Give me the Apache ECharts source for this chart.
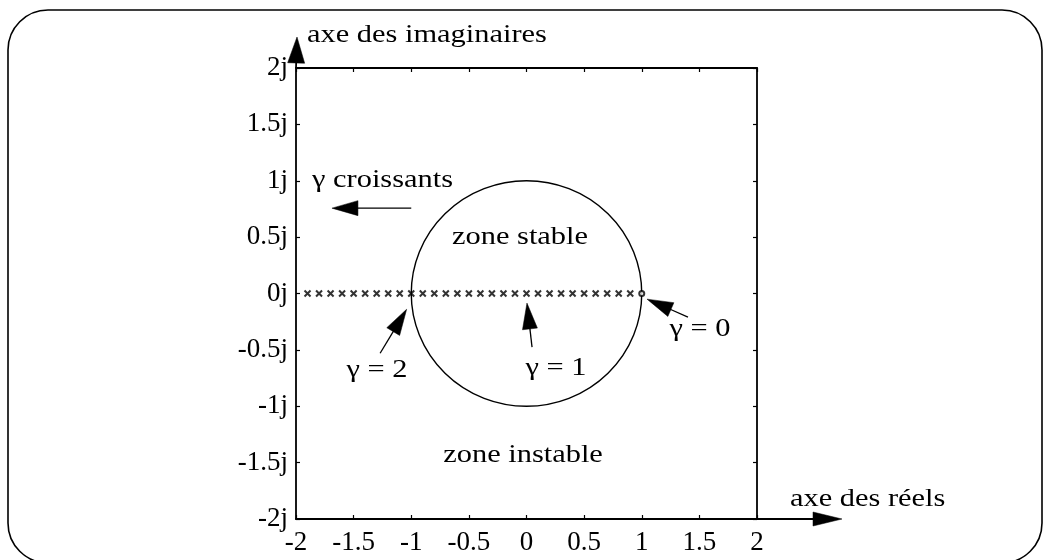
<!DOCTYPE html>
<html>
<head>
<meta charset="utf-8">
<script src="https://cdn.jsdelivr.net/npm/echarts@6/dist/echarts.min.js"></script>
<style>
  html, body { margin: 0; padding: 0; background: #fff; }
  #chart { width: 1046px; height: 560px; }
</style>
</head>
<body>
<div id="chart"></div>
<script>
// Axis ticks of the complex plane
const xTickValues = [-2, -1.5, -1, -0.5, 0, 0.5, 1, 1.5, 2];
const xTickLabels = ['-2', '-1.5', '-1', '-0.5', '0', '0.5', '1', '1.5', '2'];
const yTickValues = [-2, -1.5, -1, -0.5, 0, 0.5, 1, 1.5, 2];
const yTickLabels = ['-2j', '-1.5j', '-1j', '-0.5j', '0j', '0.5j', '1j', '1.5j', '2j'];

// Pole locations on the real axis for growing gain (x markers)
const poleReal = [0.9, 0.8, 0.7, 0.6, 0.5, 0.4, 0.3, 0.2, 0.1, 0,
  -0.1, -0.2, -0.3, -0.4, -0.5, -0.6, -0.7, -0.8, -0.9, -1,
  -1.1, -1.2, -1.3, -1.4, -1.5, -1.6, -1.7, -1.8, -1.9];
const poleImag = 0;
// Starting point (gamma = 0)
const startPoint = [1, 0];
// Stability circle: centre (re, im) and radius
const unitCircle = [0, 0, 1];

// Text notes, anchored in data coordinates
const notes = [
  { text: 'γ croissants', at: [-1.861, 1.005], align: 'left' },
  { text: 'zone stable', at: [-0.056, 0.5], align: 'center' },
  { text: 'zone instable', at: [-0.03, -1.433], align: 'center' },
  { text: 'γ = 2', at: [-1.297, -0.679], align: 'center' },
  { text: 'γ = 1', at: [0.256, -0.661], align: 'center' },
  { text: 'γ = 0', at: [1.505, -0.315], align: 'center' }
];
// Pointer arrows: tail -> head, in data coordinates
const pointers = [
  { from: [-1.0, 0.757], to: [-1.688, 0.757] },
  { from: [-1.27, -0.53], to: [-1.04, -0.14] },
  { from: [0.048, -0.475], to: [0.004, -0.085] },
  { from: [1.401, -0.209], to: [1.046, -0.05] }
];

const FONT_FAMILY = '"Liberation Serif", "Times New Roman", serif';
const INK = '#000';

function tickLabel(values, labels) {
  return function (v) {
    for (let i = 0; i < values.length; i++) {
      if (Math.abs(values[i] - v) < 1e-9) return labels[i];
    }
    return '';
  };
}

const baseAxis = {
  type: 'value', min: -2, max: 2, interval: 0.5,
  axisLine: { show: true, onZero: false, lineStyle: { color: INK, width: 1.8 } },
  axisTick: { show: true, inside: true, length: 4, lineStyle: { color: INK, width: 1.2 } },
  splitLine: { show: false },
  minorTick: { show: false }
};

const chart = echarts.init(document.getElementById('chart'), null, { renderer: 'canvas' });

chart.setOption({
  animation: false,
  backgroundColor: '#fff',
  grid: { left: 296, right: 289, top: 68, bottom: 41, containLabel: false },
  xAxis: [
    Object.assign({}, baseAxis, {
      position: 'bottom',
      axisLabel: {
        show: true, margin: 10, color: INK, fontFamily: FONT_FAMILY, fontSize: 27,
        formatter: tickLabel(xTickValues, xTickLabels)
      }
    }),
    Object.assign({}, baseAxis, { position: 'top', axisLabel: { show: false } })
  ],
  yAxis: [
    Object.assign({}, baseAxis, {
      position: 'left',
      axisLabel: {
        show: true, margin: 8, color: INK, fontFamily: FONT_FAMILY, fontSize: 27,
        formatter: tickLabel(yTickValues, yTickLabels)
      }
    }),
    Object.assign({}, baseAxis, { position: 'right', axisLabel: { show: false } })
  ],
  series: [
    {
      type: 'scatter', xAxisIndex: 0, yAxisIndex: 0, silent: true,
      data: poleReal.map(function (re) { return [re, poleImag]; }),
      symbol: 'path://M0,0L10,10M10,0L0,10',
      symbolSize: 6,
      itemStyle: { color: 'none', borderColor: INK, borderWidth: 2 }
    },
    {
      type: 'scatter', xAxisIndex: 0, yAxisIndex: 0, silent: true,
      data: [startPoint],
      symbol: 'emptyCircle', symbolSize: 5,
      itemStyle: { color: INK, borderColor: INK, borderWidth: 1.3 }
    },
    {
      type: 'custom', xAxisIndex: 0, yAxisIndex: 0, silent: true,
      data: [unitCircle],
      renderItem: function (params, api) {
        const c = api.coord([api.value(0), api.value(1)]);
        const s = api.size([api.value(2), api.value(2)]);
        return {
          type: 'circle',
          x: c[0], y: c[1],
          scaleY: s[1] / s[0],
          shape: { cx: 0, cy: 0, r: s[0] },
          style: { fill: 'none', stroke: INK, lineWidth: 1.4 }
        };
      }
    }
  ]
});

// Overlay: frame, axis arrows, axis names, notes and pointers
function px(p) { return chart.convertToPixel({ seriesIndex: 0 }, p); }

function arrowHead(tip, tail, len, half) {
  const dx = tip[0] - tail[0], dy = tip[1] - tail[1];
  const d = Math.sqrt(dx * dx + dy * dy);
  const ux = dx / d, uy = dy / d;
  const bx = tip[0] - ux * len, by = tip[1] - uy * len;
  return {
    type: 'polygon', silent: true,
    shape: { points: [tip, [bx - uy * half, by + ux * half], [bx + uy * half, by - ux * half]] },
    style: { fill: INK, stroke: INK, lineWidth: 0.5 }
  };
}
function arrow(tail, tip, len, half, width) {
  const dx = tip[0] - tail[0], dy = tip[1] - tail[1];
  const d = Math.sqrt(dx * dx + dy * dy);
  const end = [tip[0] - dx / d * (len - 2), tip[1] - dy / d * (len - 2)];
  return [
    { type: 'line', silent: true,
      shape: { x1: tail[0], y1: tail[1], x2: end[0], y2: end[1] },
      style: { stroke: INK, lineWidth: width } },
    arrowHead(tip, tail, len, half)
  ];
}
function label(text, x, y, align) {
  return {
    type: 'text', silent: true, x: x, y: y, scaleX: 1.17,
    style: {
      text: text, x: 0, y: 0, fill: INK,
      font: '26px ' + FONT_FAMILY,
      align: align, verticalAlign: 'middle',
      textAlign: align, textVerticalAlign: 'middle'
    }
  };
}

const g = [];
g.push({
  type: 'rect', silent: true,
  shape: { x: 8, y: 10, width: 1034, height: 553, r: 40 },
  style: { fill: 'none', stroke: INK, lineWidth: 1.6 }
});

const topLeft = px([-2, 2]);
const bottomRight = px([2, -2]);
// vertical (imaginary) axis arrow
arrow(topLeft, [topLeft[0] + 1, topLeft[1] - 31], 26, 8.5, 1.8).forEach(function (e) { g.push(e); });
// horizontal (real) axis arrow
arrow(bottomRight, [bottomRight[0] + 85, bottomRight[1]], 29, 7, 1.8).forEach(function (e) { g.push(e); });

g.push(label('axe des imaginaires', topLeft[0] + 11, topLeft[1] - 33, 'left'));
g.push(label('axe des réels', bottomRight[0] + 33, bottomRight[1] - 20, 'left'));

notes.forEach(function (n) {
  const p = px(n.at);
  g.push(label(n.text, p[0], p[1], n.align));
});
pointers.forEach(function (a) {
  arrow(px(a.from), px(a.to), 26, 7.5, 1.3).forEach(function (e) { g.push(e); });
});

chart.setOption({ graphic: { elements: g } });
</script>
</body>
</html>
